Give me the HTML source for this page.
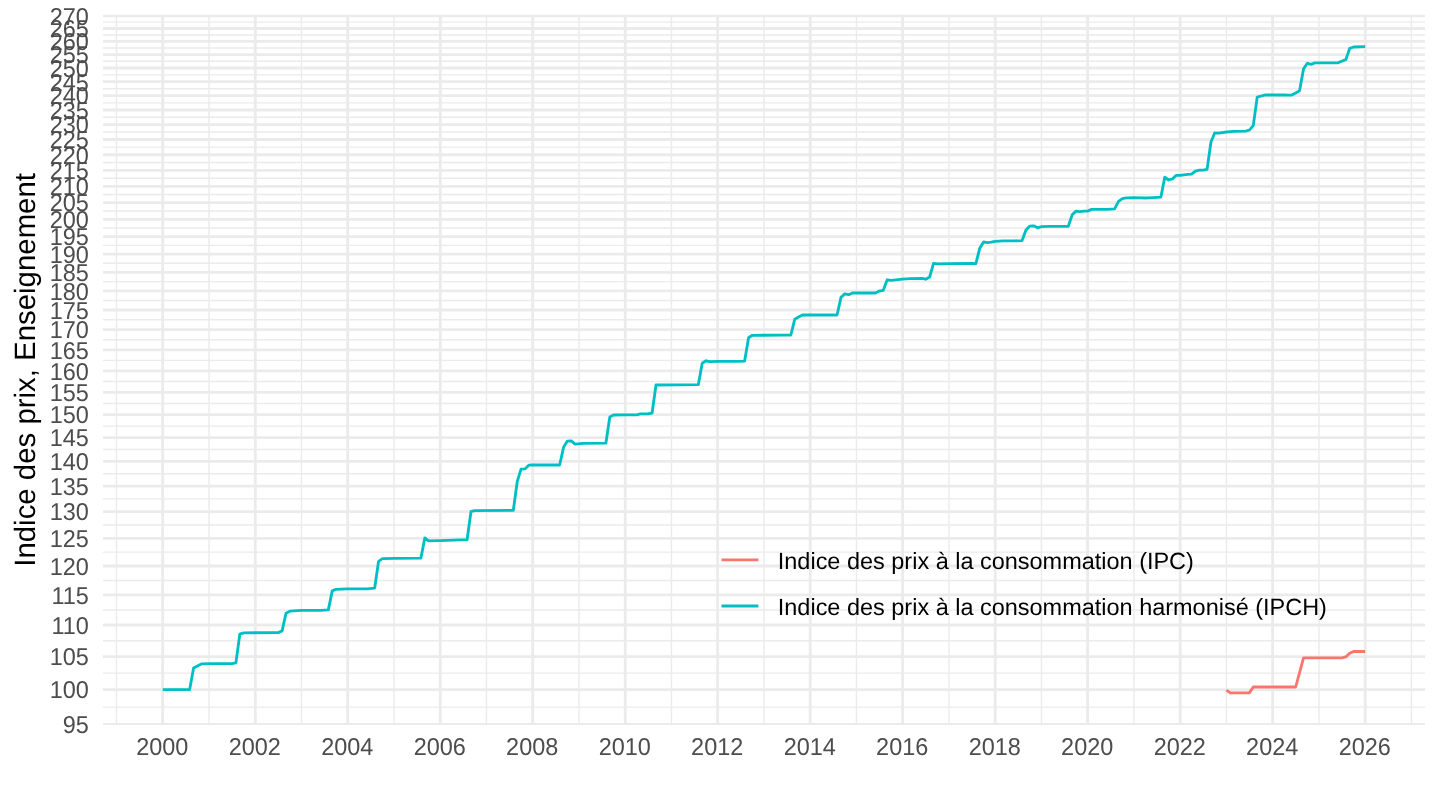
<!DOCTYPE html>
<html lang="fr"><head><meta charset="utf-8"><title>Indice des prix, Enseignement</title>
<style>html,body{margin:0;padding:0;background:#fff;overflow:hidden}svg{display:block;will-change:transform}text{text-rendering:geometricPrecision;font-family:"Liberation Sans",Arial,Helvetica,sans-serif}</style></head><body>
<svg width="1440" height="810" viewBox="0 0 1440 810">
<rect width="1440" height="810" fill="#fff"/>
<defs><clipPath id="pc"><rect x="102.9" y="14.75" width="1322.3" height="710.25"/></clipPath></defs>
<g clip-path="url(#pc)">
<g stroke="#EBEBEB" stroke-width="1.42" fill="none">
<line x1="102.9" x2="1425.2" y1="707.10" y2="707.10"/>
<line x1="102.9" x2="1425.2" y1="673.15" y2="673.15"/>
<line x1="102.9" x2="1425.2" y1="640.81" y2="640.81"/>
<line x1="102.9" x2="1425.2" y1="609.95" y2="609.95"/>
<line x1="102.9" x2="1425.2" y1="580.43" y2="580.43"/>
<line x1="102.9" x2="1425.2" y1="552.15" y2="552.15"/>
<line x1="102.9" x2="1425.2" y1="524.99" y2="524.99"/>
<line x1="102.9" x2="1425.2" y1="498.88" y2="498.88"/>
<line x1="102.9" x2="1425.2" y1="473.74" y2="473.74"/>
<line x1="102.9" x2="1425.2" y1="449.50" y2="449.50"/>
<line x1="102.9" x2="1425.2" y1="426.09" y2="426.09"/>
<line x1="102.9" x2="1425.2" y1="403.47" y2="403.47"/>
<line x1="102.9" x2="1425.2" y1="381.57" y2="381.57"/>
<line x1="102.9" x2="1425.2" y1="360.36" y2="360.36"/>
<line x1="102.9" x2="1425.2" y1="339.80" y2="339.80"/>
<line x1="102.9" x2="1425.2" y1="319.83" y2="319.83"/>
<line x1="102.9" x2="1425.2" y1="300.44" y2="300.44"/>
<line x1="102.9" x2="1425.2" y1="281.59" y2="281.59"/>
<line x1="102.9" x2="1425.2" y1="263.25" y2="263.25"/>
<line x1="102.9" x2="1425.2" y1="245.39" y2="245.39"/>
<line x1="102.9" x2="1425.2" y1="227.99" y2="227.99"/>
<line x1="102.9" x2="1425.2" y1="211.02" y2="211.02"/>
<line x1="102.9" x2="1425.2" y1="194.47" y2="194.47"/>
<line x1="102.9" x2="1425.2" y1="178.31" y2="178.31"/>
<line x1="102.9" x2="1425.2" y1="162.53" y2="162.53"/>
<line x1="102.9" x2="1425.2" y1="147.11" y2="147.11"/>
<line x1="102.9" x2="1425.2" y1="132.03" y2="132.03"/>
<line x1="102.9" x2="1425.2" y1="117.28" y2="117.28"/>
<line x1="102.9" x2="1425.2" y1="102.84" y2="102.84"/>
<line x1="102.9" x2="1425.2" y1="88.70" y2="88.70"/>
<line x1="102.9" x2="1425.2" y1="74.85" y2="74.85"/>
<line x1="102.9" x2="1425.2" y1="61.28" y2="61.28"/>
<line x1="102.9" x2="1425.2" y1="47.97" y2="47.97"/>
<line x1="102.9" x2="1425.2" y1="34.92" y2="34.92"/>
<line x1="102.9" x2="1425.2" y1="22.12" y2="22.12"/>
<line x1="116.48" x2="116.48" y1="14.75" y2="725.0"/>
<line x1="209.04" x2="209.04" y1="14.75" y2="725.0"/>
<line x1="301.47" x2="301.47" y1="14.75" y2="725.0"/>
<line x1="394.03" x2="394.03" y1="14.75" y2="725.0"/>
<line x1="486.46" x2="486.46" y1="14.75" y2="725.0"/>
<line x1="579.02" x2="579.02" y1="14.75" y2="725.0"/>
<line x1="671.45" x2="671.45" y1="14.75" y2="725.0"/>
<line x1="764.01" x2="764.01" y1="14.75" y2="725.0"/>
<line x1="856.45" x2="856.45" y1="14.75" y2="725.0"/>
<line x1="949.00" x2="949.00" y1="14.75" y2="725.0"/>
<line x1="1041.44" x2="1041.44" y1="14.75" y2="725.0"/>
<line x1="1133.99" x2="1133.99" y1="14.75" y2="725.0"/>
<line x1="1226.43" x2="1226.43" y1="14.75" y2="725.0"/>
<line x1="1318.98" x2="1318.98" y1="14.75" y2="725.0"/>
<line x1="1411.42" x2="1411.42" y1="14.75" y2="725.0"/>
</g>
<g stroke="#EBEBEB" stroke-width="2.845" fill="none">
<line x1="102.9" x2="1425.2" y1="724.50" y2="724.50"/>
<line x1="102.9" x2="1425.2" y1="689.70" y2="689.70"/>
<line x1="102.9" x2="1425.2" y1="656.60" y2="656.60"/>
<line x1="102.9" x2="1425.2" y1="625.03" y2="625.03"/>
<line x1="102.9" x2="1425.2" y1="594.87" y2="594.87"/>
<line x1="102.9" x2="1425.2" y1="565.99" y2="565.99"/>
<line x1="102.9" x2="1425.2" y1="538.30" y2="538.30"/>
<line x1="102.9" x2="1425.2" y1="511.69" y2="511.69"/>
<line x1="102.9" x2="1425.2" y1="486.08" y2="486.08"/>
<line x1="102.9" x2="1425.2" y1="461.40" y2="461.40"/>
<line x1="102.9" x2="1425.2" y1="437.59" y2="437.59"/>
<line x1="102.9" x2="1425.2" y1="414.59" y2="414.59"/>
<line x1="102.9" x2="1425.2" y1="392.34" y2="392.34"/>
<line x1="102.9" x2="1425.2" y1="370.80" y2="370.80"/>
<line x1="102.9" x2="1425.2" y1="349.92" y2="349.92"/>
<line x1="102.9" x2="1425.2" y1="329.67" y2="329.67"/>
<line x1="102.9" x2="1425.2" y1="310.00" y2="310.00"/>
<line x1="102.9" x2="1425.2" y1="290.89" y2="290.89"/>
<line x1="102.9" x2="1425.2" y1="272.30" y2="272.30"/>
<line x1="102.9" x2="1425.2" y1="254.20" y2="254.20"/>
<line x1="102.9" x2="1425.2" y1="236.58" y2="236.58"/>
<line x1="102.9" x2="1425.2" y1="219.40" y2="219.40"/>
<line x1="102.9" x2="1425.2" y1="202.65" y2="202.65"/>
<line x1="102.9" x2="1425.2" y1="186.30" y2="186.30"/>
<line x1="102.9" x2="1425.2" y1="170.33" y2="170.33"/>
<line x1="102.9" x2="1425.2" y1="154.73" y2="154.73"/>
<line x1="102.9" x2="1425.2" y1="139.48" y2="139.48"/>
<line x1="102.9" x2="1425.2" y1="124.57" y2="124.57"/>
<line x1="102.9" x2="1425.2" y1="109.98" y2="109.98"/>
<line x1="102.9" x2="1425.2" y1="95.69" y2="95.69"/>
<line x1="102.9" x2="1425.2" y1="81.70" y2="81.70"/>
<line x1="102.9" x2="1425.2" y1="68.00" y2="68.00"/>
<line x1="102.9" x2="1425.2" y1="54.56" y2="54.56"/>
<line x1="102.9" x2="1425.2" y1="41.39" y2="41.39"/>
<line x1="102.9" x2="1425.2" y1="28.46" y2="28.46"/>
<line x1="102.9" x2="1425.2" y1="15.78" y2="15.78"/>
<line x1="162.70" x2="162.70" y1="14.75" y2="725.0"/>
<line x1="255.26" x2="255.26" y1="14.75" y2="725.0"/>
<line x1="347.69" x2="347.69" y1="14.75" y2="725.0"/>
<line x1="440.25" x2="440.25" y1="14.75" y2="725.0"/>
<line x1="532.68" x2="532.68" y1="14.75" y2="725.0"/>
<line x1="625.24" x2="625.24" y1="14.75" y2="725.0"/>
<line x1="717.67" x2="717.67" y1="14.75" y2="725.0"/>
<line x1="810.23" x2="810.23" y1="14.75" y2="725.0"/>
<line x1="902.66" x2="902.66" y1="14.75" y2="725.0"/>
<line x1="995.22" x2="995.22" y1="14.75" y2="725.0"/>
<line x1="1087.65" x2="1087.65" y1="14.75" y2="725.0"/>
<line x1="1180.21" x2="1180.21" y1="14.75" y2="725.0"/>
<line x1="1272.64" x2="1272.64" y1="14.75" y2="725.0"/>
<line x1="1365.20" x2="1365.20" y1="14.75" y2="725.0"/>
</g>
<polyline points="1226.43,690.10 1230.35,692.90 1249.34,692.90 1253.27,687.00 1295.69,687.00 1303.54,657.80 1341.90,657.80 1345.83,656.90 1349.75,653.20 1353.55,651.50 1365.20,651.50" fill="none" stroke="#F8766D" stroke-width="2.845" stroke-linejoin="round" stroke-linecap="butt"/>
<polyline points="162.70,689.60 189.67,689.60 193.60,668.00 201.32,663.90 209.04,663.60 231.96,663.60 235.89,662.90 239.81,634.20 243.61,632.80 278.18,632.60 282.10,630.90 286.03,613.20 289.83,611.20 301.47,610.40 320.59,610.40 328.32,609.90 332.24,590.90 336.04,589.30 347.69,588.90 366.94,588.90 374.66,588.10 378.59,561.30 382.38,558.70 394.03,558.30 420.88,558.20 424.80,538.00 428.60,540.90 440.25,540.60 467.09,539.70 471.02,511.30 474.82,510.60 513.31,510.40 517.23,481.70 521.03,469.20 524.96,468.90 528.76,465.20 532.68,465.00 559.65,465.00 563.58,447.20 567.37,441.10 571.30,440.90 575.10,444.10 582.95,443.30 605.87,443.20 609.79,417.00 613.59,415.00 625.24,414.80 636.63,414.80 640.43,413.90 648.16,413.90 652.08,413.00 656.01,385.00 698.30,384.65 702.22,363.30 706.02,360.80 709.95,361.70 717.67,361.40 736.92,361.30 744.64,361.10 748.57,337.80 752.36,335.30 783.13,335.20 790.86,335.00 794.78,319.20 798.58,317.10 802.51,315.00 837.07,315.00 841.00,297.40 844.80,293.90 848.72,294.70 852.52,293.00 875.56,293.00 879.36,291.10 883.29,290.30 887.21,279.80 891.01,280.30 902.66,279.20 910.26,278.60 921.91,278.30 925.71,279.20 929.63,277.00 933.56,263.30 937.35,263.90 949.00,263.60 971.92,263.30 975.85,263.70 979.77,248.30 983.57,242.00 987.50,242.60 991.29,242.20 995.22,241.40 1002.69,240.90 1014.34,240.90 1022.06,240.60 1025.99,230.00 1029.79,226.10 1033.71,225.80 1037.51,227.80 1041.44,226.70 1048.91,226.40 1068.28,226.40 1072.20,214.70 1076.00,211.10 1079.93,211.70 1083.73,211.10 1087.65,211.10 1091.58,209.40 1106.90,209.40 1114.62,208.90 1118.55,201.30 1122.34,198.70 1126.27,197.80 1133.99,197.60 1145.39,198.00 1153.11,197.60 1160.84,197.20 1164.76,177.20 1168.56,180.00 1172.49,178.90 1176.28,175.30 1180.21,175.30 1187.68,174.40 1191.61,174.20 1195.40,171.20 1199.33,170.20 1203.13,170.20 1207.05,169.40 1210.98,142.00 1214.78,132.80 1218.70,133.10 1226.43,132.00 1233.90,131.30 1245.55,131.10 1249.34,130.20 1253.27,125.60 1257.19,97.20 1264.92,95.00 1272.64,95.00 1284.16,94.80 1287.96,95.20 1291.89,95.00 1295.69,93.00 1299.61,90.60 1303.54,68.90 1307.34,63.30 1311.26,64.40 1315.06,62.80 1318.98,62.80 1338.10,62.80 1341.90,61.10 1345.83,59.70 1349.75,48.30 1353.55,47.00 1365.20,46.70" fill="none" stroke="#00BFC4" stroke-width="2.845" stroke-linejoin="round" stroke-linecap="butt"/>
</g>
<g font-size="23.47px" fill="#4D4D4D" text-anchor="end">
<text transform="translate(88.85,732.90) scale(1,1.043)">95</text>
<text transform="translate(88.85,697.90) scale(1,1.043)">100</text>
<text transform="translate(88.85,664.90) scale(1,1.043)">105</text>
<text transform="translate(88.85,633.90) scale(1,1.043)">110</text>
<text transform="translate(88.85,603.90) scale(1,1.043)">115</text>
<text transform="translate(88.85,574.90) scale(1,1.043)">120</text>
<text transform="translate(88.85,546.90) scale(1,1.043)">125</text>
<text transform="translate(88.85,519.90) scale(1,1.043)">130</text>
<text transform="translate(88.85,494.90) scale(1,1.043)">135</text>
<text transform="translate(88.85,469.90) scale(1,1.043)">140</text>
<text transform="translate(88.85,445.90) scale(1,1.043)">145</text>
<text transform="translate(88.85,422.90) scale(1,1.043)">150</text>
<text transform="translate(88.85,400.90) scale(1,1.043)">155</text>
<text transform="translate(88.85,379.90) scale(1,1.043)">160</text>
<text transform="translate(88.85,358.90) scale(1,1.043)">165</text>
<text transform="translate(88.85,337.90) scale(1,1.043)">170</text>
<text transform="translate(88.85,318.90) scale(1,1.043)">175</text>
<text transform="translate(88.85,299.90) scale(1,1.043)">180</text>
<text transform="translate(88.85,280.90) scale(1,1.043)">185</text>
<text transform="translate(88.85,262.90) scale(1,1.043)">190</text>
<text transform="translate(88.85,244.90) scale(1,1.043)">195</text>
<text transform="translate(88.85,227.90) scale(1,1.043)">200</text>
<text transform="translate(88.85,210.90) scale(1,1.043)">205</text>
<text transform="translate(88.85,194.90) scale(1,1.043)">210</text>
<text transform="translate(88.85,178.90) scale(1,1.043)">215</text>
<text transform="translate(88.85,163.90) scale(1,1.043)">220</text>
<text transform="translate(88.85,147.90) scale(1,1.043)">225</text>
<text transform="translate(88.85,132.90) scale(1,1.043)">230</text>
<text transform="translate(88.85,118.90) scale(1,1.043)">235</text>
<text transform="translate(88.85,103.90) scale(1,1.043)">240</text>
<text transform="translate(88.85,90.90) scale(1,1.043)">245</text>
<text transform="translate(88.85,76.90) scale(1,1.043)">250</text>
<text transform="translate(88.85,62.90) scale(1,1.043)">255</text>
<text transform="translate(88.85,49.90) scale(1,1.043)">260</text>
<text transform="translate(88.85,36.90) scale(1,1.043)">265</text>
<text transform="translate(88.85,24.90) scale(1,1.043)">270</text>
</g>
<g font-size="23.47px" fill="#4D4D4D" text-anchor="middle">
<text transform="translate(162.25,754.9) scale(1,1.043)">2000</text>
<text transform="translate(254.81,754.9) scale(1,1.043)">2002</text>
<text transform="translate(347.24,754.9) scale(1,1.043)">2004</text>
<text transform="translate(439.80,754.9) scale(1,1.043)">2006</text>
<text transform="translate(532.23,754.9) scale(1,1.043)">2008</text>
<text transform="translate(624.79,754.9) scale(1,1.043)">2010</text>
<text transform="translate(717.22,754.9) scale(1,1.043)">2012</text>
<text transform="translate(809.78,754.9) scale(1,1.043)">2014</text>
<text transform="translate(902.21,754.9) scale(1,1.043)">2016</text>
<text transform="translate(994.77,754.9) scale(1,1.043)">2018</text>
<text transform="translate(1087.20,754.9) scale(1,1.043)">2020</text>
<text transform="translate(1179.76,754.9) scale(1,1.043)">2022</text>
<text transform="translate(1272.19,754.9) scale(1,1.043)">2024</text>
<text transform="translate(1364.75,754.9) scale(1,1.043)">2026</text>
</g>
<text font-size="29.4px" fill="#000" text-anchor="middle" transform="translate(35.3,369.9) rotate(-90)">Indice des prix, Enseignement</text>
<line x1="721.5" x2="758.4" y1="559.85" y2="559.85" stroke="#F8766D" stroke-width="2.845"/>
<line x1="721.5" x2="758.4" y1="606.0" y2="606.0" stroke="#00BFC4" stroke-width="2.845"/>
<g font-size="23.47px" fill="#000">
<text x="777.8" y="569.0">Indice des prix à la consommation (IPC)</text>
<text x="777.8" y="615.2">Indice des prix à la consommation harmonisé (IPCH)</text>
</g>
</svg></body></html>
